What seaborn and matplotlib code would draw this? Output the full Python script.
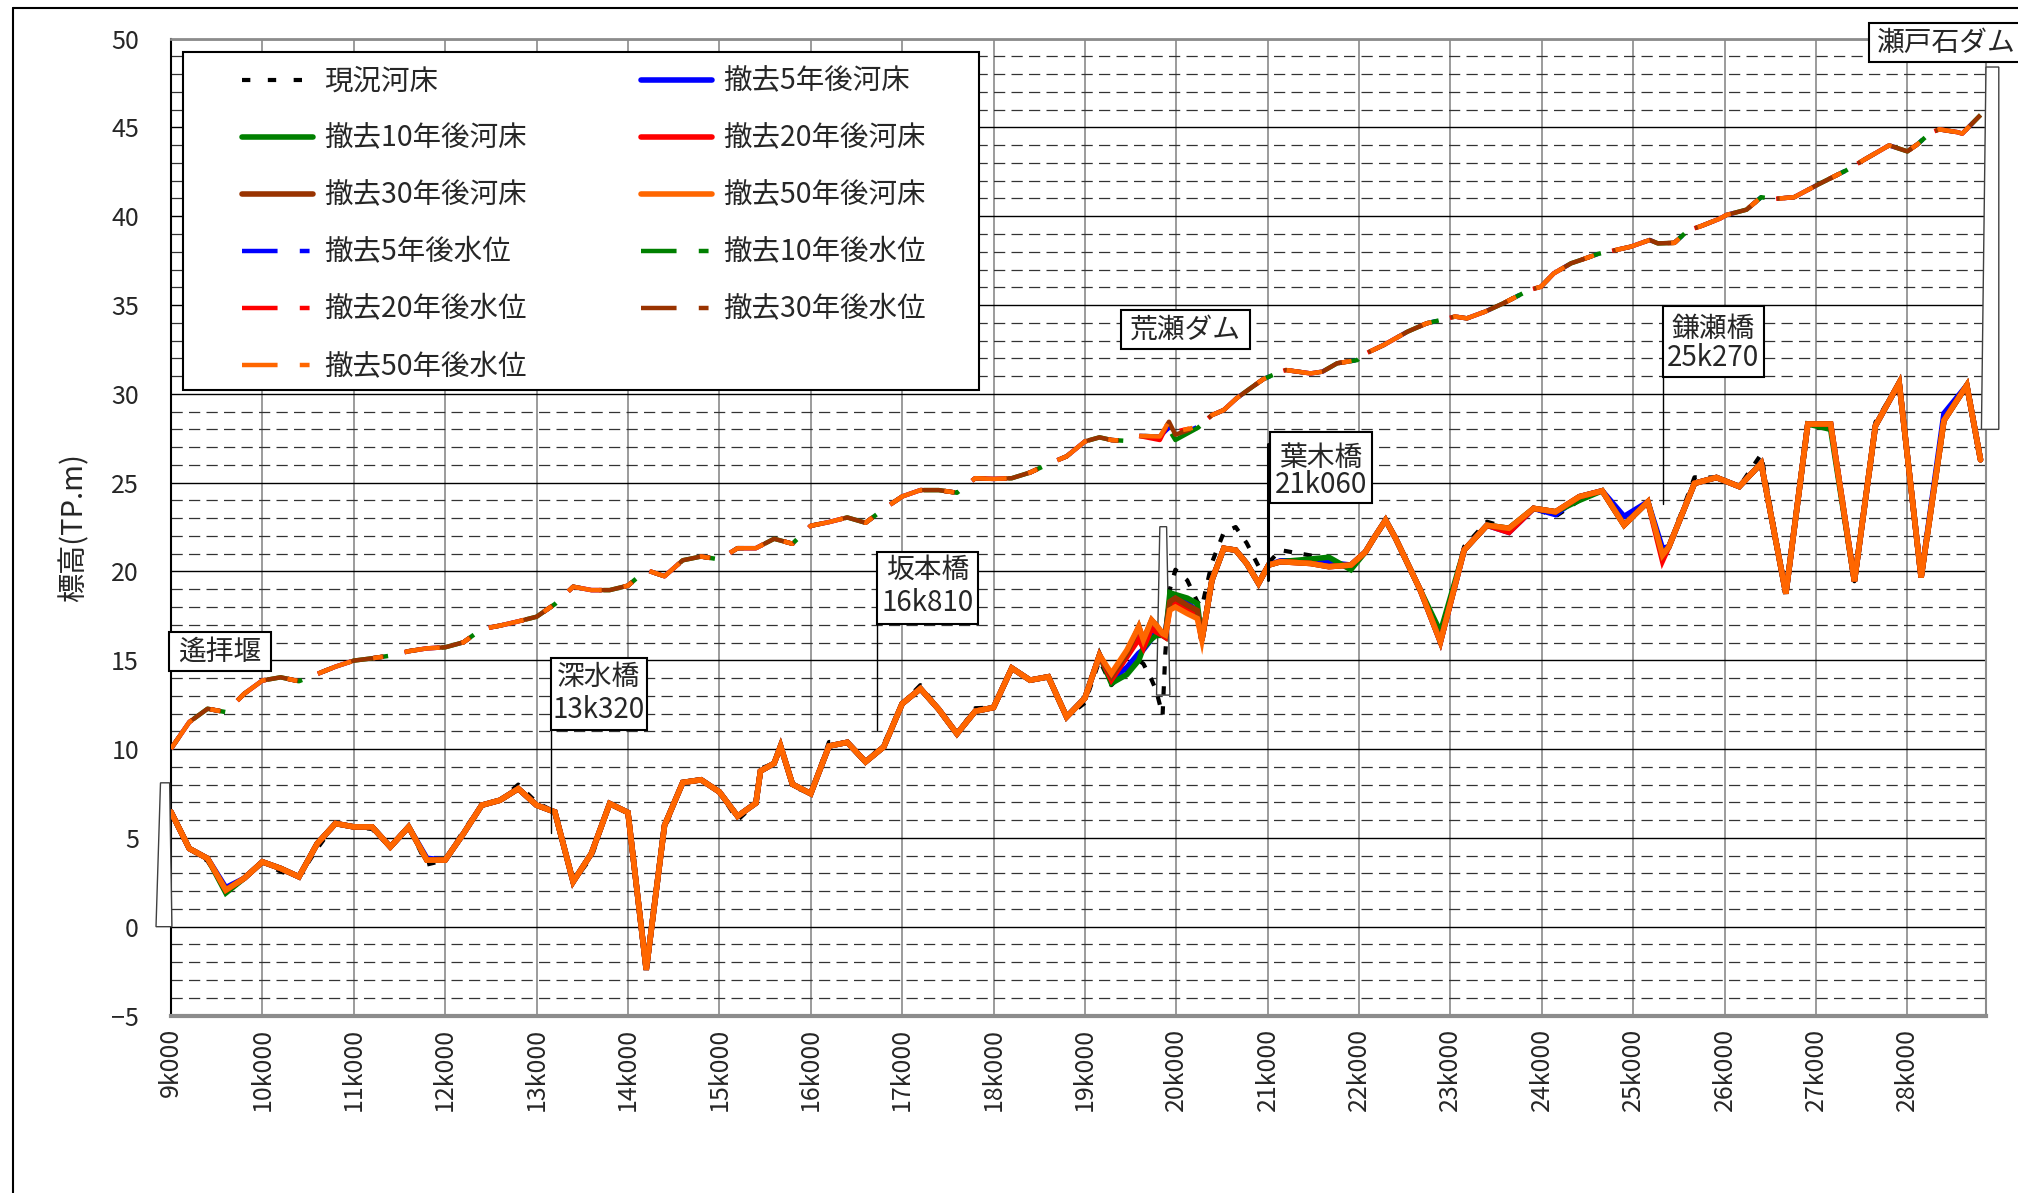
import matplotlib
matplotlib.use("Agg")
import matplotlib.pyplot as plt
import seaborn as sns
from matplotlib.lines import Line2D
from matplotlib.patches import Rectangle, Polygon
from matplotlib.ticker import MultipleLocator, FixedLocator

sns.set_style("white")
plt.rcParams['font.family'] = ['Noto Sans CJK JP', 'DejaVu Sans']

# ---------------- data ----------------
# distance along the river (km) of the bed cross-sections
km_bed = [9.0, 9.2, 9.4, 9.6, 9.8, 10.0, 10.2, 10.4, 10.6, 10.8,
          11.0, 11.2, 11.4, 11.6, 11.8, 12.0, 12.2, 12.4, 12.6, 12.8,
          13.0, 13.2, 13.4, 13.6, 13.8, 14.0, 14.2, 14.4, 14.6, 14.8,
          15.0, 15.2, 15.4, 15.45, 15.6, 15.67, 15.8, 16.0, 16.2, 16.4,
          16.6, 16.8, 17.0, 17.2, 17.4, 17.6, 17.8, 18.0, 18.2, 18.4,
          18.6, 18.8, 19.0, 19.16, 19.29, 19.46, 19.59, 19.64, 19.73, 19.78,
          19.85, 19.88, 19.93, 19.99, 20.12, 20.23, 20.28, 20.39, 20.52, 20.65,
          20.77, 20.9, 21.01, 21.14, 21.47, 21.67, 21.91, 22.07, 22.16, 22.29,
          22.4, 22.67, 22.89, 23.15, 23.4, 23.64, 23.91, 24.15, 24.41, 24.66,
          24.9, 25.16, 25.32, 25.39, 25.67, 25.91, 26.16, 26.4, 26.67, 26.91,
          27.16, 27.42, 27.65, 27.91, 28.15, 28.4, 28.65, 28.8]

# bed elevation 50 years after removal (TP.m)
bed_50 = [6.46, 4.40, 3.84, 2.06, 2.72, 3.65, 3.28, 2.81, 4.68, 5.81,
          5.62, 5.62, 4.49, 5.62, 3.75, 3.75, 5.24, 6.84, 7.12, 7.77,
          6.84, 6.46, 2.53, 4.12, 6.93, 6.43, -2.43, 5.70, 8.12, 8.27,
          7.59, 6.22, 6.96, 8.76, 9.20, 10.17, 8.02, 7.49, 10.17, 10.38,
          9.28, 10.13, 12.55, 13.40, 12.24, 10.86, 12.13, 12.34, 14.56, 13.88,
          14.07, 11.81, 12.87, 15.29, 14.26, 15.58, 16.89, 16.14, 17.26, 16.98,
          16.50, 16.42, 17.83, 18.00, 17.63, 17.35, 16.14, 19.51, 21.30, 21.20,
          20.45, 19.33, 20.36, 20.55, 20.45, 20.27, 20.36, 21.10, 21.86, 22.89,
          21.86, 18.95, 16.04, 21.21, 22.60, 22.43, 23.55, 23.36, 24.21, 24.54,
          22.61, 23.92, 20.92, 21.39, 24.96, 25.29, 24.78, 26.09, 18.75, 28.30,
          28.30, 19.45, 28.20, 30.62, 19.66, 28.50, 30.48, 26.29]

# sections where the other bed profiles depart from the 50-year profile
bed_now_pts = {9.4: 3.7, 10.2: 3.1, 10.6: 4.4, 11.2: 5.5, 11.8: 3.5, 12.2: 5.4,
               12.8: 8.0, 13.0: 7.0, 13.6: 3.9, 14.4: 5.5, 15.2: 6.0, 15.45: 8.9,
               15.8: 7.9, 16.2: 10.4, 16.8: 10.3, 17.2: 13.6, 17.8: 12.3, 18.6: 14.0,
               19.0: 12.6, 19.16: 15.0, 19.29: 13.6, 19.46: 14.5, 19.59: 15.0,
               19.64: 14.8, 19.73: 13.9, 19.78: 13.3, 19.85: 11.9, 19.88: 15.4,
               19.93: 19.0, 19.99: 20.1, 20.12: 19.5, 20.23: 18.3, 20.28: 18.0,
               20.39: 20.5, 20.52: 22.2, 20.65: 22.5, 20.77: 21.6, 20.9: 20.3,
               21.01: 20.5, 21.14: 21.2, 21.47: 20.9, 21.67: 20.4, 21.91: 20.3,
               22.89: 16.4, 23.15: 21.4, 23.4: 22.8, 24.15: 23.1, 24.41: 24.0,
               25.67: 25.3, 26.4: 26.6, 27.65: 28.4, 28.4: 28.7}
bed_5_pts = {9.6: 2.2, 11.8: 3.85, 19.29: 13.9, 19.46: 14.6, 19.59: 15.4,
             19.64: 15.6, 19.73: 16.2, 19.78: 16.6, 19.85: 16.6, 19.88: 16.5,
             19.93: 18.4, 19.99: 18.5, 20.12: 18.2, 20.23: 17.8, 21.14: 20.6,
             21.47: 20.6, 21.67: 20.5, 23.64: 22.2, 24.15: 23.2, 24.9: 23.1,
             25.32: 21.3, 28.4: 28.9}
bed_10_pts = {9.6: 1.9, 19.29: 13.7, 19.46: 14.2, 19.59: 15.0, 19.64: 15.7,
              19.73: 16.2, 19.78: 16.4, 19.85: 16.4, 19.88: 16.3, 19.93: 18.8,
              19.99: 18.7, 20.12: 18.5, 20.23: 18.2, 21.47: 20.7, 21.67: 20.8,
              21.91: 20.1, 22.89: 16.6, 24.41: 24.0, 27.16: 28.0}
bed_20_pts = {19.29: 13.9, 19.46: 15.2, 19.59: 16.2, 19.64: 15.7, 19.73: 16.8,
              19.78: 16.6, 19.85: 16.4, 19.88: 16.3, 19.93: 18.0, 19.99: 18.3,
              20.12: 17.9, 20.23: 17.6, 23.64: 22.2, 25.32: 20.6}
bed_30_pts = {19.29: 14.1, 19.46: 15.4, 19.93: 18.3, 19.99: 18.5, 20.12: 18.1,
              20.23: 17.8}

# distance (km) of the water level points
km_wl = [9.0, 9.2, 9.4, 9.6, 9.8, 10.0, 10.2, 10.4, 10.6, 10.8,
         11.0, 11.2, 11.4, 11.6, 11.8, 12.0, 12.2, 12.4, 12.6, 12.8,
         13.0, 13.2, 13.4, 13.6, 13.8, 14.0, 14.2, 14.4, 14.6, 14.8,
         15.0, 15.2, 15.4, 15.6, 15.8, 16.0, 16.2, 16.4, 16.6, 16.8,
         17.0, 17.2, 17.4, 17.6, 17.8, 18.0, 18.2, 18.4, 18.6, 18.8,
         19.0, 19.16, 19.29, 19.46, 19.59, 19.82, 19.92, 19.99, 20.24, 20.39,
         20.52, 20.66, 20.81, 20.95, 21.14, 21.2, 21.47, 21.6, 21.76, 21.98,
         22.04, 22.27, 22.53, 22.74, 23.05, 23.18, 23.38, 23.58, 23.86, 23.99,
         24.13, 24.32, 24.43, 24.61, 24.97, 25.18, 25.27, 25.45, 25.6, 25.74,
         25.95, 26.02, 26.24, 26.4, 26.53, 26.76, 27.02, 27.33, 27.53, 27.8,
         28.0, 28.11, 28.25, 28.35, 28.55, 28.6, 28.8]

# water level 50 years after removal (TP.m)
wl_50 = [10.02, 11.52, 12.27, 12.08, 13.11, 13.86, 14.04, 13.82, 14.23, 14.64,
         14.98, 15.11, 15.26, 15.51, 15.67, 15.73, 16.01, 16.76, 16.95, 17.19,
         17.45, 18.16, 19.14, 18.95, 18.95, 19.20, 20.08, 19.73, 20.63, 20.84,
         20.68, 21.31, 21.31, 21.84, 21.56, 22.57, 22.78, 23.04, 22.74, 23.52,
         24.22, 24.58, 24.58, 24.43, 25.25, 25.21, 25.25, 25.57, 26.05, 26.48,
         27.32, 27.55, 27.40, 27.35, 27.63, 27.60, 28.43, 27.87, 28.15, 28.80,
         29.09, 29.75, 30.31, 30.82, 31.25, 31.34, 31.15, 31.25, 31.72, 31.90,
         32.19, 32.75, 33.50, 33.97, 34.35, 34.25, 34.63, 35.10, 35.84, 36.03,
         36.78, 37.35, 37.54, 37.87, 38.28, 38.66, 38.47, 38.50, 39.20, 39.44,
         39.87, 40.07, 40.37, 41.07, 40.97, 41.07, 41.78, 42.58, 43.19, 43.99,
         43.65, 44.05, 44.69, 44.89, 44.73, 44.65, 45.70]

wl_5_pts = {19.92: 28.1, 19.99: 27.6}
wl_10_pts = {19.92: 28.0, 19.99: 27.4, 20.24: 28.1}
wl_20_pts = {19.82: 27.4}
wl_30_pts = {19.99: 27.7}


def profile(km, base, pts):
    return [pts.get(k, v) for k, v in zip(km, base)]


bed_now = profile(km_bed, bed_50, bed_now_pts)
bed_5 = profile(km_bed, bed_50, bed_5_pts)
bed_10 = profile(km_bed, bed_50, bed_10_pts)
bed_20 = profile(km_bed, bed_50, bed_20_pts)
bed_30 = profile(km_bed, bed_50, bed_30_pts)
wl_5 = profile(km_wl, wl_50, wl_5_pts)
wl_10 = profile(km_wl, wl_50, wl_10_pts)
wl_20 = profile(km_wl, wl_50, wl_20_pts)
wl_30 = profile(km_wl, wl_50, wl_30_pts)

x_ticks = list(range(9, 29))
x_ticklabels = [f"{k}k000" for k in x_ticks]

C_BLUE, C_GREEN, C_RED, C_BROWN, C_ORANGE = "#0000FF", "#008000", "#FF0000", "#993300", "#FF6600"

# ---------------- figure ----------------
W, H = 2018, 1193
fig = plt.figure(figsize=(W / 100, H / 100), dpi=100)
ax = fig.add_axes([171 / W, 1 - 1015.5 / H, (1986 - 171) / W, (1015.5 - 38.6) / H])

LW_BED = 4.0
LW_WL = 3.2
NOW_STYLE = (0, (2.0, 2.8))
WL_PATTERN = (8, 5, 2.2, 5)


def draw(x, y, color, lw, ls, z):
    sns.lineplot(x=x, y=y, ax=ax, color=color, linewidth=lw, sort=False,
                 estimator=None, zorder=z)
    ln = ax.lines[-1]
    ln.set_linestyle(ls)
    ln.set_solid_joinstyle("miter")
    return ln


draw(km_bed, bed_now, "black", 3.0, NOW_STYLE, 3.0)
draw(km_bed, bed_5, C_BLUE, LW_BED, "-", 3.1)
draw(km_bed, bed_10, C_GREEN, LW_BED, "-", 3.2)
draw(km_bed, bed_20, C_RED, LW_BED, "-", 3.3)
draw(km_bed, bed_30, C_BROWN, LW_BED, "-", 3.4)
draw(km_bed, bed_50, C_ORANGE, LW_BED, "-", 3.5)

draw(km_wl, wl_5, C_BLUE, LW_WL, (0, WL_PATTERN), 3.1)
draw(km_wl, wl_10, C_GREEN, LW_WL, (10 * LW_WL, WL_PATTERN), 3.2)
draw(km_wl, wl_20, C_RED, LW_WL, (0, WL_PATTERN), 3.3)
draw(km_wl, wl_30, C_BROWN, LW_WL, (4 * LW_WL, WL_PATTERN), 3.4)
draw(km_wl, wl_50, C_ORANGE, LW_WL, (0, WL_PATTERN), 3.5)

# axes, grid
ax.set_xlim(9.0, 28.86)
ax.set_ylim(-5, 50)
ax.yaxis.set_major_locator(MultipleLocator(5))
ax.yaxis.set_minor_locator(MultipleLocator(1))
ax.xaxis.set_major_locator(FixedLocator(x_ticks))
ax.set_xticklabels(x_ticklabels, rotation=90)
ax.tick_params(axis="both", which="both", length=0)
ax.tick_params(axis="y", labelsize=18, pad=23)
ax.tick_params(axis="x", labelsize=18, pad=9)
ax.set_axisbelow(True)
ax.grid(which="major", axis="y", color="black", linewidth=1.0)
ax.grid(which="minor", axis="y", color="#333333", linewidth=0.9, linestyle=(0, (9, 5)))
ax.grid(which="major", axis="x", color="#8a8a8a", linewidth=1.2)
ax.set_xlabel("")
ax.set_ylabel("")
for side, col, lw in [("left", "black", 1.5), ("bottom", "#8c8c8c", 3.0),
                      ("top", "#8c8c8c", 2.0), ("right", "#8c8c8c", 1.5)]:
    ax.spines[side].set_color(col)
    ax.spines[side].set_linewidth(lw)
    ax.spines[side].set_visible(True)

fig.text(74 / W, 1 - 528 / H, "標高(TP.m)", rotation=90, ha="center", va="center", fontsize=21)

# structures drawn as outlines
for pts in ([(8.836, 0), (8.885, 8.1), (8.985, 8.1), (9.01, 0)],
            [(19.784, 13.04), (19.82, 22.52), (19.894, 22.52), (19.93, 13.04)],
            [(28.81, 28.0), (28.86, 48.4), (29.0, 48.4), (29.0, 28.0)]):
    ax.add_patch(Polygon(pts, closed=True, fc="white", ec="#404040", lw=1.0,
                         zorder=2.6, clip_on=False))

# callout boxes
def callout(x0, x1, y0, y1, lines, align="center", lx=None):
    ax.add_patch(Rectangle((x0, y0), x1 - x0, y1 - y0, fc="white", ec="black",
                           lw=1.5, zorder=6, clip_on=False))
    for text, yv in lines:
        if align == "center":
            ax.text((x0 + x1) / 2, yv, text, ha="center", va="center",
                    fontsize=20, zorder=7, clip_on=False)
        else:
            ax.text(lx, yv, text, ha="left", va="center",
                    fontsize=20, zorder=7, clip_on=False)


callout(8.978, 10.094, 14.39, 16.59, [("遙拝堰", 15.49)])
callout(13.157, 14.208, 11.07, 15.11, [("深水橋", 14.05), ("13k320", 12.19)])
ax.plot([13.157, 13.157], [11.07, 5.3], color="black", lw=1.0, zorder=6)
callout(16.724, 17.829, 17.03, 21.09, [("坂本橋", 20.12), ("16k810", 18.22)])
ax.plot([16.724, 16.724], [17.03, 11.1], color="black", lw=1.0, zorder=6)
callout(19.394, 20.805, 32.52, 34.72, [("荒瀬ダム", 33.62)])
callout(21.024, 22.14, 23.85, 27.85, [("葉木橋", 26.37), ("21k060", 24.86)])
ax.plot([21.005, 21.005], [27.2, 19.5], color="black", lw=2.2, zorder=6.5)
callout(25.324, 26.43, 30.94, 34.94, [("鎌瀬橋", 33.66), ("25k270", 32.04)])
ax.plot([25.324, 25.324], [30.94, 23.8], color="black", lw=1.0, zorder=6)
callout(27.577, 29.4, 48.68, 50.88, [("瀬戸石ダム", 49.78)], align="left", lx=27.665)

# legend
def h(color, lw, ls):
    return Line2D([], [], color=color, linewidth=lw, linestyle=ls)

entries = [
    (h("black", 3.0, (0, (2.0, 4.2))), "現況河床"),
    (h(C_GREEN, LW_BED, "-"), "撤去10年後河床"),
    (h(C_BROWN, LW_BED, "-"), "撤去30年後河床"),
    (h(C_BLUE, LW_WL, (0, WL_PATTERN)), "撤去5年後水位"),
    (h(C_RED, LW_WL, (0, WL_PATTERN)), "撤去20年後水位"),
    (h(C_ORANGE, LW_WL, (0, WL_PATTERN)), "撤去50年後水位"),
    (h(C_BLUE, LW_BED, "-"), "撤去5年後河床"),
    (h(C_RED, LW_BED, "-"), "撤去20年後河床"),
    (h(C_ORANGE, LW_BED, "-"), "撤去50年後河床"),
    (h(C_GREEN, LW_WL, (0, WL_PATTERN)), "撤去10年後水位"),
    (h(C_BROWN, LW_WL, (0, WL_PATTERN)), "撤去30年後水位"),
]
ax.add_patch(Rectangle((183 / W, 1 - 390 / H), (979 - 183) / W, (390 - 52) / H,
                       transform=fig.transFigure, fc="white", ec="black", lw=1.5,
                       zorder=8, clip_on=False))
leg = ax.legend([e[0] for e in entries], [e[1] for e in entries], ncol=2,
                loc="upper left", bbox_to_anchor=(242 / W, 1 - 66.5 / H),
                bbox_transform=fig.transFigure, frameon=False, fontsize=20.5,
                handlelength=2.5, handletextpad=0.4, columnspacing=4.0,
                labelspacing=0.95, borderpad=0, borderaxespad=0)
leg.set_zorder(9)

# chart-area border (top and left edges)
fig.add_artist(Line2D([13 / W, 13 / W], [0, 1 - 8 / H], transform=fig.transFigure,
                      color="black", lw=1.5))
fig.add_artist(Line2D([13 / W, 1], [1 - 8 / H, 1 - 8 / H], transform=fig.transFigure,
                      color="black", lw=1.5))

fig.savefig("out.png", dpi=100)
